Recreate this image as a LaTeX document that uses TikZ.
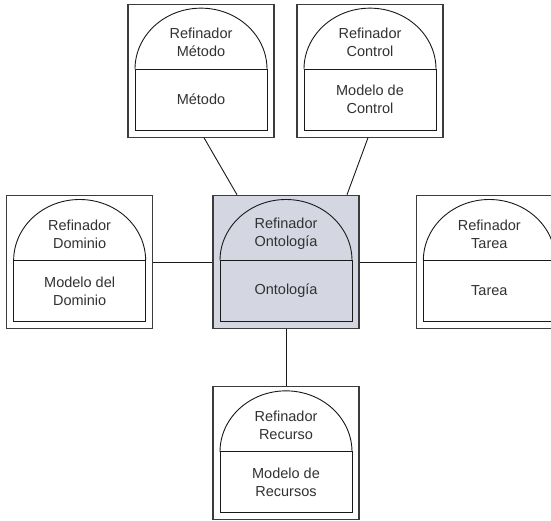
\documentclass[tikz,border=0pt]{standalone}
\usepackage{fontspec}
\setmainfont{Liberation Sans}
\usetikzlibrary{positioning}
\definecolor{ontofill}{RGB}{212,215,225}
\definecolor{borde}{RGB}{60,60,60}
\definecolor{texto}{RGB}{50,50,50}
\tikzset{
    inner/.style={draw=black!90, line width=0.9pt},
    modulo/.style={draw=borde, line width=1.2pt, rectangle, fill=white,
        minimum width=146pt, minimum height=133pt, inner sep=0pt,
        path picture={
            \coordinate (nw) at (path picture bounding box.north west);
            \draw [inner] ([shift={(7pt,-65pt)}]nw) arc[start angle=180, end angle=0, x radius=66pt, y radius=61pt];
            \draw [inner] ([shift={(7pt,-65pt)}]nw) rectangle ([shift={(139pt,-126pt)}]nw);
        }},
    refin/.style={align=center, text=texto, font=\fontsize{14.5}{18}\selectfont, inner sep=0pt},
    line/.style={draw=black!90, line width=0.9pt}
}

\begin{document}
\begin{tikzpicture}[node distance=57pt]
    \useasboundingbox (0,0) rectangle (551pt,-521pt);
    \clip (0,0) rectangle (551pt,-521pt);

    % Ontologia (center)
    \node [modulo, fill=ontofill, line width=1.5pt] (onto) at (286pt,-262pt) {};

    % Surrounding modules
    \node [modulo, above=57pt of onto, xshift=-85pt] (metodo) {};
    \node [modulo, above=57pt of onto, xshift=84pt] (control) {};
    \node [modulo, left=59pt of onto] (dominio) {};
    \node [modulo, right=56pt of onto] (tarea) {};
    \node [modulo, below=57pt of onto] (recurso) {};

    % Texts
    \node [refin] (ontoR) at ([yshift=-39pt]onto.north) {Refinador\\Ontología};
    \node [refin] (ontoC) at ([yshift=-96pt]onto.north) {Ontología};
    \node [refin] (metodoR) at ([yshift=-39pt]metodo.north) {Refinador\\Método};
    \node [refin] (metodoC) at ([yshift=-96pt]metodo.north) {Método};
    \node [refin] (controlR) at ([yshift=-39pt]control.north) {Refinador\\Control};
    \node [refin] (controlC) at ([yshift=-96pt]control.north) {Modelo de\\Control};
    \node [refin] (dominioR) at ([yshift=-39pt]dominio.north) {Refinador\\Dominio};
    \node [refin] (dominioC) at ([yshift=-96pt]dominio.north) {Modelo del\\Dominio};
    \node [refin] (tareaR) at ([yshift=-39pt]tarea.north) {Refinador\\Tarea};
    \node [refin] (tareaC) at ([yshift=-96pt]tarea.north) {Tarea};
    \node [refin] (recursoR) at ([yshift=-39pt]recurso.north) {Refinador\\Recurso};
    \node [refin] (recursoC) at ([yshift=-96pt]recurso.north) {Modelo de\\Recursos};

    % Connections
    \draw [line] ([xshift=3pt]metodo.south) -- ([xshift=-49pt]onto.north);
    \draw [line] ([xshift=-2pt]control.south) -- ([xshift=61pt]onto.north);
    \draw [line] (dominio) -- (onto);
    \draw [line] (onto) -- (tarea);
    \draw [line] (onto) -- (recurso);
\end{tikzpicture}
\end{document}
